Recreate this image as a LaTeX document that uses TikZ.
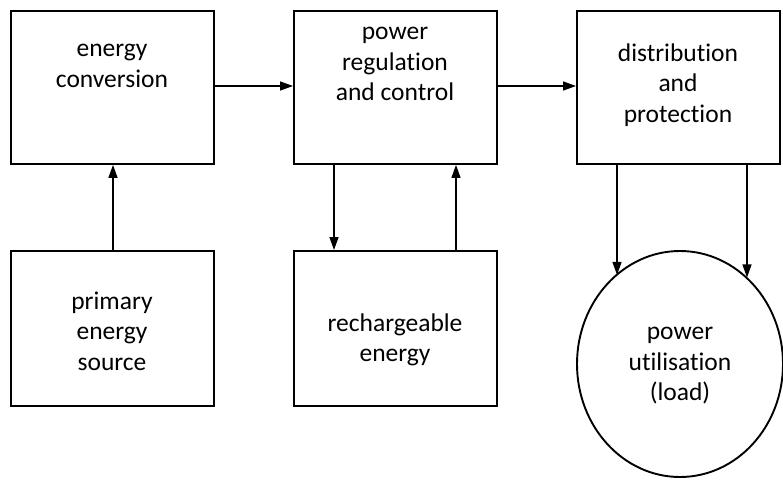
\documentclass[tikz,border=0pt]{standalone}
\usepackage{fontspec}
\setmainfont[Ligatures=NoCommon]{Carlito}
\usetikzlibrary{shapes.geometric,arrows.meta}
\begin{document}
\begin{tikzpicture}[x=1pt,y=-1pt,
  blockbox/.style={draw,line width=1.9pt,minimum width=203pt,minimum height=153pt,inner sep=0pt,anchor=north west},
  ellbox/.style={draw,ellipse,line width=1.9pt,minimum width=206pt,minimum height=226pt,inner sep=0pt},
  label/.style={align=center,font=\fontsize{25.5pt}{30.5pt}\selectfont,inner sep=0pt},
  conn/.style={line width=1.4pt,-{Triangle[length=13pt,width=9pt]}}]
\useasboundingbox (0,0) rectangle (783,479);
\node[blockbox] (ec) at (10,10) {};
\node[blockbox] (prc) at (293,10) {};
\node[blockbox] (dp) at (576,10) {};
\node[blockbox,minimum height=155pt] (pes) at (10,250) {};
\node[blockbox,minimum height=155pt] (re) at (293,250) {};
\node[ellbox] (pu) at (680,364) {};
\node[label] (tec) at (112,66) {energy\\conversion};
\node[label] (tprc) at (395,64) {power\\regulation\\and control};
\node[label] (tdp) at (678,85) {distribution\\and\\protection};
\node[label] (tpes) at (112,331) {primary\\energy\\source};
\node[label] (tre) at (395,340) {rechargeable\\energy};
\node[label] (tpu) at (680,366) {power\\utilisation\\(load)};
\coordinate (a1) at (113,0);
\coordinate (a2) at (334,0);
\coordinate (a3) at (456,0);
\coordinate (a4) at (617,0);
\coordinate (a5) at (747,0);
\coordinate (h) at (0,86);
\draw[conn] (pes.north -| a1) -- (ec.south -| a1);
\draw[conn] (ec.east |- h) -- (prc.west |- h);
\draw[conn] (prc.east |- h) -- (dp.west |- h);
\draw[conn] (prc.south -| a2) -- (re.north -| a2);
\draw[conn] (re.north -| a3) -- (prc.south -| a3);
\draw[conn] (dp.south -| a4) -- (pu.126.3 -| a4);
\draw[conn] (dp.south -| a5) -- (pu.52.2 -| a5);
\end{tikzpicture}
\end{document}
